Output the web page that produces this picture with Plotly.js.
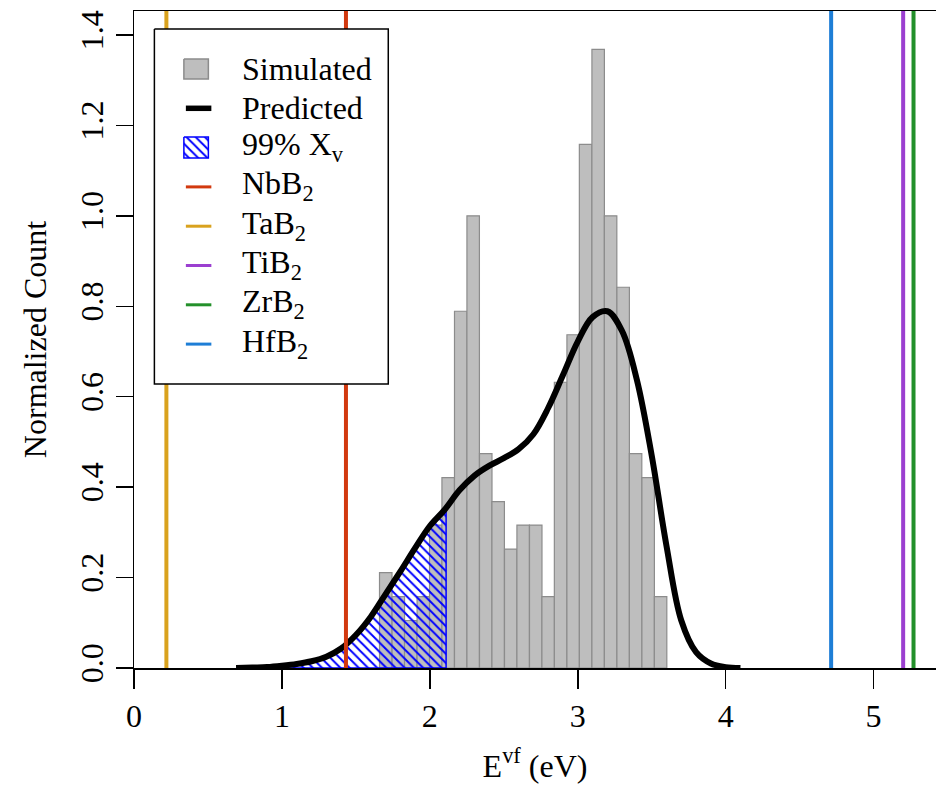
<!DOCTYPE html>
<html>
<head>
<meta charset="utf-8">
<script src="https://cdn.plot.ly/plotly-3.0.1.min.js"></script>
<style>html,body{margin:0;padding:0;background:#fff;}#chart{width:936px;height:790px;}</style>
</head>
<body>
<div id="chart"></div>
<script>
// Histogram (Simulated): bin centres (eV) and normalized counts
const binCenters = [1.702, 1.787, 1.871, 1.956, 2.040, 2.124, 2.209, 2.293, 2.378, 2.462, 2.547, 2.631,
                    2.716, 2.800, 2.884, 2.969, 3.053, 3.138, 3.222, 3.307, 3.391, 3.476, 3.560];
const binHeights = [0.211, 0.158, 0.105, 0.158, 0.316, 0.421, 0.789, 1.000, 0.474, 0.368, 0.263, 0.316,
                    0.316, 0.158, 0.632, 0.737, 1.158, 1.368, 1.000, 0.842, 0.474, 0.421, 0.158];
const binWidth = 0.0844;

// Predicted density curve
const curveX = [0.69, 0.8, 0.9, 1.0, 1.1, 1.2, 1.3, 1.4, 1.5, 1.6, 1.7, 1.8, 1.9, 2.0, 2.1, 2.2, 2.3,
                2.4, 2.5, 2.6, 2.7, 2.8, 2.9, 3.0, 3.1, 3.2, 3.3, 3.4, 3.5, 3.6, 3.7, 3.8, 3.9, 4.0, 4.1];
const curveY = [0.0, 0.001, 0.002, 0.005, 0.009, 0.015, 0.025, 0.043, 0.073, 0.113, 0.163, 0.213, 0.265,
                0.314, 0.35, 0.393, 0.425, 0.447, 0.464, 0.484, 0.517, 0.575, 0.648, 0.722, 0.776, 0.789,
                0.745, 0.637, 0.47, 0.27, 0.105, 0.035, 0.01, 0.002, 0.0];

// 99% X_v region upper cut (eV)
const xvCut = 2.11;

// Reference compounds (legend order)
const refNames  = ["NbB<sub>2</sub>", "TaB<sub>2</sub>", "TiB<sub>2</sub>", "ZrB<sub>2</sub>", "HfB<sub>2</sub>"];
const refValues = [1.433, 0.219, 5.20, 5.27, 4.713];
const refColors = ["#D2390F", "#D9A21E", "#9B3FD0", "#23902A", "#1E7ED6"];

// legend labels
const legendLabels = ["Simulated", "Predicted", "99% X<sub>v</sub>"].concat(refNames);

// axis ticks
const xTicks = [0, 1, 2, 3, 4, 5];
const yTicks = [0.0, 0.2, 0.4, 0.6, 0.8, 1.0, 1.2, 1.4];

const xRange = [0, 5.422];
const yRange = [0, 1.453];
const FONT = "Liberation Serif, Times New Roman, serif";

// plot area in pixels (for the overlay legend axes)
const PLOT = {l: 133.6, r: 936, t: 11, b: 668};
// legend geometry (pixels)
const LEG = {left: 154, right: 388, top: 29, bottom: 384, row0: 69, rowStep: 39.3,
             symL: 183.5, symR: 208, textX: 240};

const HATCH = {shape: "\\", fgcolor: "blue", bgcolor: "rgba(0,0,0,0)", size: 6.5, solidity: 0.3};

// build hatch polygon from the curve
const hx = [], hy = [];
for (let i = 0; i < curveX.length; i++) {
  if (curveX[i] <= xvCut) { hx.push(curveX[i]); hy.push(curveY[i]); }
  else {
    const t = (xvCut - curveX[i-1]) / (curveX[i] - curveX[i-1]);
    hx.push(xvCut); hy.push(curveY[i-1] + t * (curveY[i] - curveY[i-1]));
    break;
  }
}
hx.push(xvCut, curveX[0], curveX[0]); hy.push(0, 0, 0);

const traces = [];
traces.push({
  type: "bar", x: binCenters, y: binHeights, width: binWidth, name: "Simulated",
  marker: {color: "#BEBEBE", line: {color: "#8C8C8C", width: 1.2}}, hoverinfo: "skip"
});
traces.push({
  type: "scatter", mode: "lines", x: hx, y: hy, name: "99% X_v",
  fill: "toself", fillcolor: "rgba(0,0,0,0)", fillpattern: HATCH,
  line: {color: "blue", width: 1.5}, hoverinfo: "skip"
});
traces.push({
  type: "scatter", mode: "lines", x: curveX, y: curveY, name: "Predicted",
  line: {color: "black", width: 6, shape: "spline", smoothing: 1}, hoverinfo: "skip"
});
for (let i = 0; i < refNames.length; i++) {
  traces.push({
    type: "scatter", mode: "lines", x: [refValues[i], refValues[i]], y: yRange,
    name: refNames[i], line: {color: refColors[i], width: 4}, hoverinfo: "skip"
  });
}

// ---- legend drawn on an overlay pixel-axis pair ----
const L = {xaxis: "x2", yaxis: "y2", hoverinfo: "skip", showlegend: false};
const rowY = i => LEG.row0 + i * LEG.rowStep;
const box = (x0, x1, y0, y1) => ({x: [x0, x1, x1, x0, x0], y: [y0, y0, y1, y1, y0]});
// frame
traces.push(Object.assign({type: "scatter", mode: "lines", fill: "toself", fillcolor: "#fff",
  line: {color: "#000", width: 1.5}}, box(LEG.left, LEG.right, LEG.top, LEG.bottom), L));
// simulated square
traces.push(Object.assign({type: "scatter", mode: "lines", fill: "toself", fillcolor: "#BEBEBE",
  line: {color: "#8C8C8C", width: 1.5}}, box(LEG.symL, LEG.symR, rowY(0) - 10, rowY(0) + 10), L));
// predicted line
traces.push(Object.assign({type: "scatter", mode: "lines", x: [LEG.symL + 2, LEG.symR + 3], y: [rowY(1), rowY(1)],
  line: {color: "#000", width: 5.5}}, L));
// hatch square
traces.push(Object.assign({type: "scatter", mode: "lines", fill: "toself", fillcolor: "rgba(0,0,0,0)",
  fillpattern: HATCH, line: {color: "blue", width: 1.5}},
  box(LEG.symL, LEG.symR, rowY(2) - 10.5, rowY(2) + 10.5), L));
// compound lines
for (let i = 0; i < refNames.length; i++) {
  traces.push(Object.assign({type: "scatter", mode: "lines", x: [LEG.symL + 2, LEG.symR + 3],
    y: [rowY(3 + i), rowY(3 + i)], line: {color: refColors[i], width: 3}}, L));
}
const annotations = legendLabels.map((t, i) => ({
  xref: "x2", yref: "y2", x: LEG.textX, y: rowY(i), text: t, showarrow: false,
  xanchor: "left", yanchor: "middle", yshift: t.indexOf("<sub>") >= 0 ? 1 : 0,
  font: {family: FONT, size: 32, color: "#000"}
}));

const layout = {
  width: 936, height: 790,
  margin: {l: PLOT.l, r: 0, t: PLOT.t, b: 790 - PLOT.b},
  paper_bgcolor: "#fff", plot_bgcolor: "#fff",
  font: {family: FONT, size: 32, color: "#000"},
  bargap: 0,
  showlegend: false,
  annotations: annotations,
  xaxis: {
    range: xRange, tickvals: xTicks, ticktext: xTicks.map(String),
    showline: true, linecolor: "#000", linewidth: 1.5, mirror: true,
    ticks: "outside", ticklen: 19, tickwidth: 1.5, tickcolor: "#000",
    showgrid: false, zeroline: false,
    tickfont: {family: FONT, size: 32},
    title: {text: "E<sup>vf</sup> (eV)", font: {family: FONT, size: 32}, standoff: 21}
  },
  yaxis: {
    range: yRange, tickvals: yTicks, ticktext: yTicks.map(v => v.toFixed(1)),
    showline: true, linecolor: "#000", linewidth: 1.5,
    ticks: "outside", ticklen: 17, tickwidth: 1.5, tickcolor: "#000",
    showgrid: false, zeroline: false, tickangle: -90,
    tickfont: {family: FONT, size: 32},
    title: {text: "Normalized Count", font: {family: FONT, size: 32}, standoff: 17}
  },
  xaxis2: {overlaying: "x", range: [PLOT.l, PLOT.r], visible: false, fixedrange: true},
  yaxis2: {overlaying: "y", range: [PLOT.b, PLOT.t], visible: false, fixedrange: true}
};

Plotly.newPlot("chart", traces, layout, {staticPlot: true, displayModeBar: false});
</script>
</body>
</html>
